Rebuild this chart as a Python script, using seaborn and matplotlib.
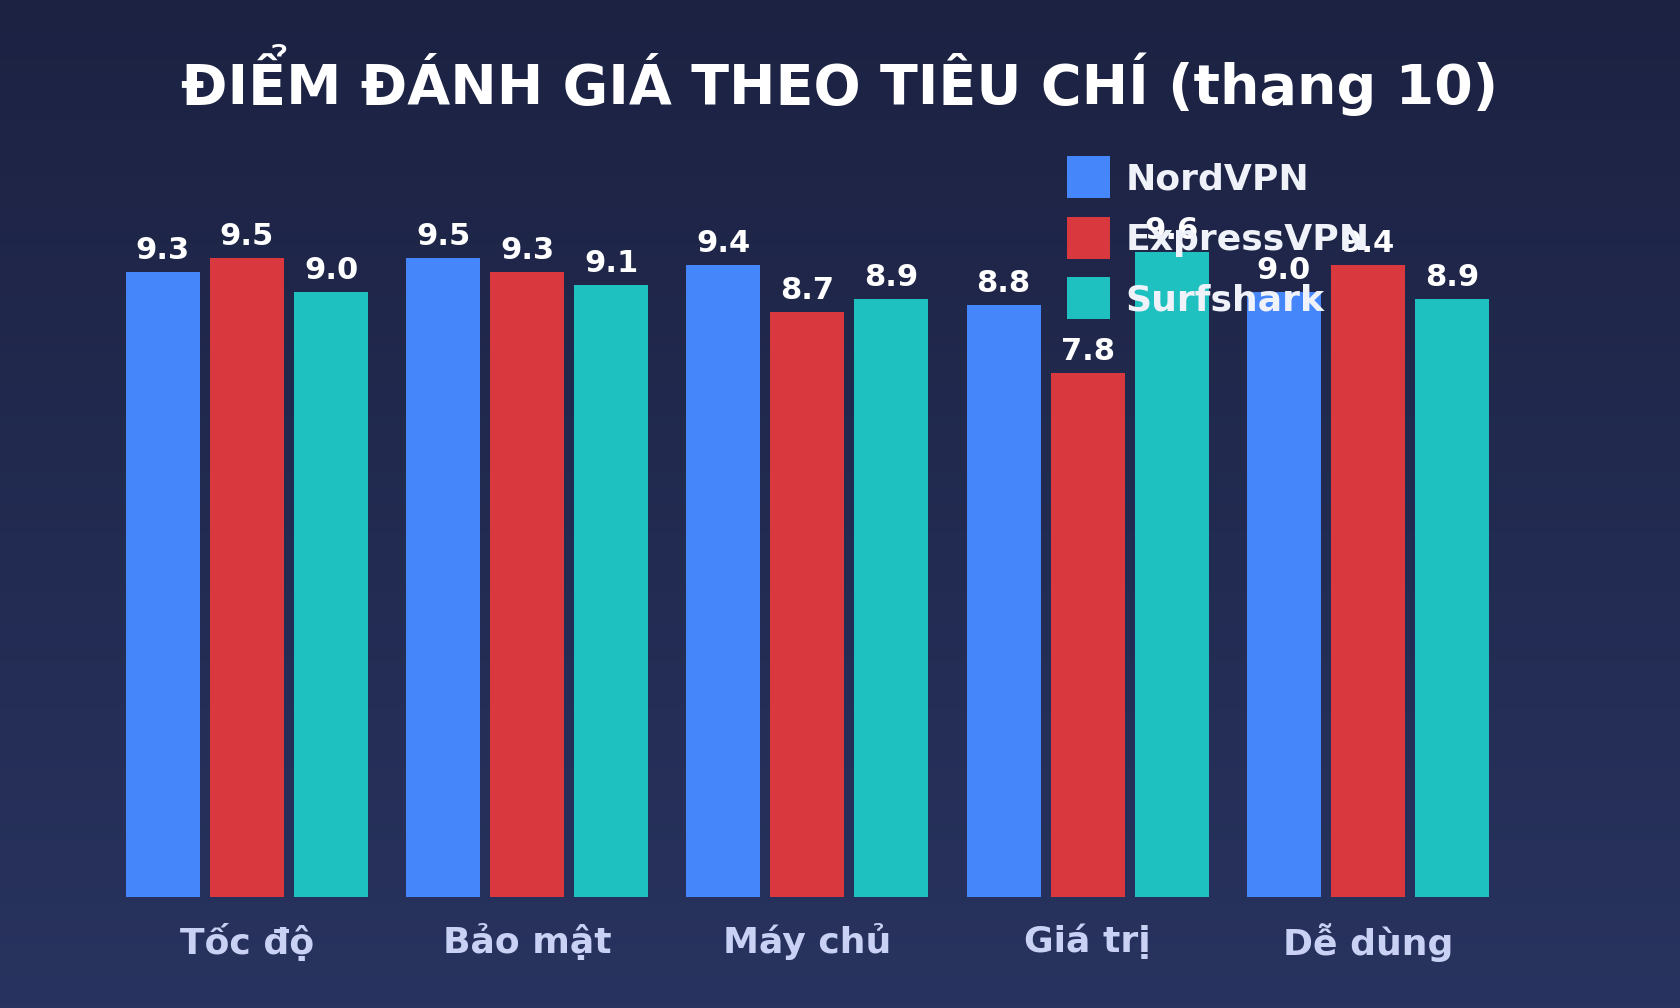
import numpy as np
import pandas as pd
import matplotlib
matplotlib.use("Agg")
import matplotlib.pyplot as plt
import seaborn as sns
from matplotlib.colors import LinearSegmentedColormap
from matplotlib.patches import Patch

categories = ["Tốc độ", "Bảo mật", "Máy chủ", "Giá trị", "Dễ dùng"]
providers = ["NordVPN", "ExpressVPN", "Surfshark"]
nordvpn = [9.3, 9.5, 9.4, 8.8, 9.0]
expressvpn = [9.5, 9.3, 8.7, 7.8, 9.4]
surfshark = [9.0, 9.1, 8.9, 9.6, 8.9]
colors = ["#4686fb", "#d9383f", "#1ec1c0"]

rows = []
for name, vals in zip(providers, [nordvpn, expressvpn, surfshark]):
    for c, v in zip(categories, vals):
        rows.append({"Tiêu chí": c, "Nhà cung cấp": name, "Điểm": v})
df = pd.DataFrame(rows)

sns.set_theme(style="white")
plt.rcParams["font.family"] = ["DejaVu Sans"]

fig = plt.figure(figsize=(16.8, 10.08), dpi=100)

# background gradient
bg = fig.add_axes([0, 0, 1, 1], zorder=0)
grad = np.linspace(0, 1, 256).reshape(-1, 1)
cmap = LinearSegmentedColormap.from_list("bg", ["#1c2242", "#28335f"])
bg.imshow(grad, aspect="auto", cmap=cmap, extent=[0, 1, 0, 1], origin="upper")
bg.axis("off")

ax = fig.add_axes([0.0636, 0.1103, 0.834, 0.6667], zorder=1)
ax.patch.set_alpha(0)
sns.barplot(data=df, x="Tiêu chí", y="Điểm", hue="Nhà cung cấp",
            palette=colors, width=0.9, gap=0.12, saturation=1,
            linewidth=0, edgecolor="none",
            legend=False, ax=ax, order=categories, hue_order=providers)
ax.set_xlim(-0.5, 4.5)
ax.set_ylim(0, 10)

for cont in ax.containers:
    ax.bar_label(cont, fmt="%.1f", padding=5, color="white",
                 fontsize=22, fontweight="bold")

ax.set_xlabel("")
ax.set_ylabel("")
ax.set_yticks([])
ax.tick_params(axis="x", length=0, pad=19, labelsize=26, labelcolor="#c9d2f5")
for lab in ax.get_xticklabels():
    lab.set_fontweight("bold")
for s in ax.spines.values():
    s.set_visible(False)

handles = [Patch(facecolor=c, edgecolor="none") for c in colors]
leg = fig.legend(handles, providers, loc="upper left",
                 bbox_to_anchor=(0.6155, 0.877), frameon=False,
                 prop={"size": 26, "weight": "bold"}, labelcolor="#f0f2fa",
                 handlelength=1.19, handleheight=1.41, handletextpad=0.45,
                 labelspacing=0.51)
leg.set_zorder(5)

fig.text(0.5, 0.921, "ĐIỂM ĐÁNH GIÁ THEO TIÊU CHÍ (thang 10)",
         ha="center", va="center", color="white", fontsize=40,
         fontweight="bold")

fig.savefig("out.png", dpi=100)
